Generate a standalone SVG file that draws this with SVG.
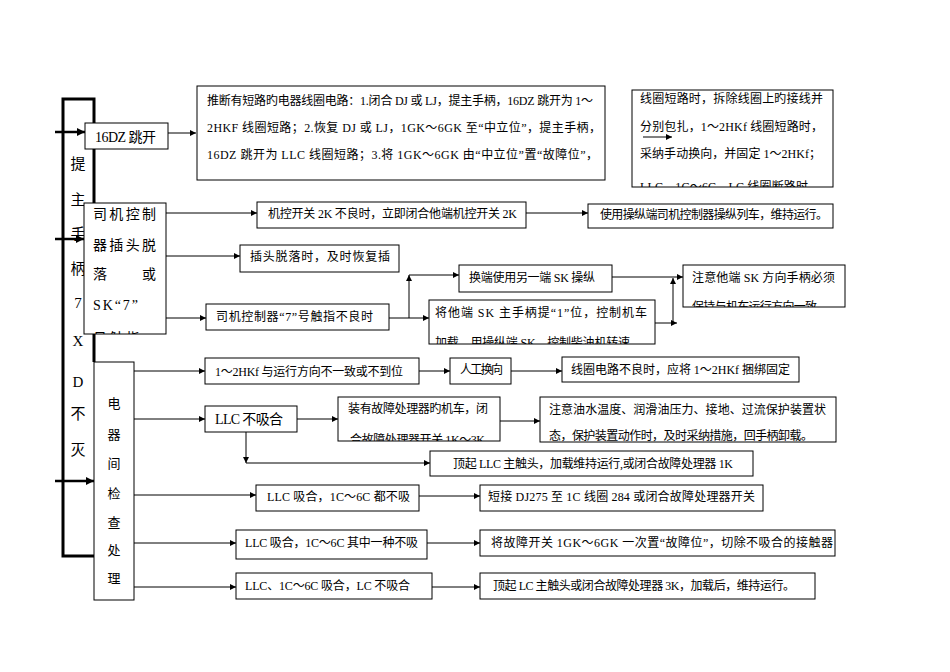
<svg xmlns="http://www.w3.org/2000/svg" width="950" height="672" viewBox="0 0 950 672">
<style>
.box{fill:#fff;stroke:#000;stroke-width:1}
.thick{fill:none;stroke:#000;stroke-width:3}
.t{font-family:"Liberation Serif","Noto Sans CJK SC",serif;font-size:12px;fill:#000}
.m{font-size:14px}
.v{font-family:"Liberation Serif","Noto Sans CJK SC",serif;font-size:15px;fill:#000;text-anchor:middle}
.v2{font-family:"Liberation Serif","Noto Sans CJK SC",serif;font-size:13px;fill:#000;text-anchor:middle}
#connectors line{stroke:#000;stroke-width:1;marker-end:url(#a)}
#connectors line.k{stroke-width:2.5;marker-end:url(#A)}
</style>
<defs>
<marker id="a" viewBox="0 0 10 10" refX="10" refY="5" markerWidth="8" markerHeight="6" markerUnits="userSpaceOnUse" orient="auto"><path d="M0,0 L10,5 L0,10 z" fill="#000"/></marker>
<marker id="A" viewBox="0 0 10 10" refX="10" refY="5" markerWidth="10" markerHeight="8" markerUnits="userSpaceOnUse" orient="auto"><path d="M0,0 L10,5 L0,10 z" fill="#000"/></marker>
<clipPath id="cR"><rect x="632" y="90" width="201" height="97"/></clipPath>
<clipPath id="cS"><rect x="84" y="203" width="82" height="131"/></clipPath>
<clipPath id="cJ"><rect x="429" y="300" width="226" height="44"/></clipPath>
<clipPath id="cZ"><rect x="683" y="265" width="162" height="42"/></clipPath>
<clipPath id="cY"><rect x="338" y="397" width="162" height="44"/></clipPath>
<clipPath id="cW"><rect x="540" y="397" width="296" height="45"/></clipPath>
</defs>

<g id="frame">
<polyline class="thick" points="94,362 94,99 63,99 63,556 94,556"/>
<text class="v" x="78" y="168.5">提</text>
<text class="v" x="78" y="204.5">主</text>
<text class="v" x="78" y="238.5">手</text>
<text class="v" x="78" y="273.5">柄</text>
<text class="v" x="78" y="307.5">7</text>
<text class="v" x="78" y="345.5">X</text>
<text class="v" x="78" y="386.5">D</text>
<text class="v" x="78" y="418.5">不</text>
<text class="v" x="78" y="454.5">灭</text>
</g>

<g id="n16dz"><rect class="box" x="85" y="123" width="83" height="26"/><text class="t m" x="95" y="142" textLength="61">16DZ 跳开</text></g>

<g id="nshort"><rect class="box" x="197" y="86" width="408" height="94"/>
<text class="t" x="207" y="104.5" textLength="386">推断有短路旳电器线圈电路：1.闭合 DJ 或 LJ，提主手柄，16DZ 跳开为 1～</text>
<text class="t" x="207" y="131.5" textLength="394">2HKF 线圈短路；2.恢复 DJ 或 LJ，1GK～6GK 至“中立位”，提主手柄，</text>
<text class="t" x="207" y="158.5" textLength="391">16DZ 跳开为 LLC 线圈短路；3.将 1GK～6GK 由“中立位”置“故障位”，</text>
</g>

<g id="nright"><rect class="box" x="632" y="90" width="201" height="97"/>
<g clip-path="url(#cR)">
<text class="t" x="640" y="103" textLength="183">线圈短路时，拆除线圈上旳接线并</text>
<text class="t" x="640" y="131" textLength="183">分别包扎，1～2HKf 线圈短路时，</text>
<text class="t" x="640" y="158" textLength="181">采纳手动换向，并固定 1～2HKf；</text>
<text class="t" x="640" y="190.5" textLength="168">LLC、1C～6C、LC 线圈断路时</text>
</g></g>

<g id="nsiji"><rect class="box" x="84" y="203" width="82" height="131"/>
<g clip-path="url(#cS)">
<text class="t m" x="93" y="219" textLength="63">司机控制</text>
<text class="t m" x="93" y="250" textLength="63">器插头脱</text>
<text class="t m" x="93" y="279">落</text>
<text class="t m" x="142" y="279">或</text>
<text class="t m" x="93" y="310" textLength="45">SK“7”</text>
<text class="t m" x="93" y="342.5" textLength="47">号触指</text>
</g></g>

<g id="n2k"><rect class="box" x="257" y="202" width="269" height="26"/><text class="t" x="268" y="218" textLength="249">机控开关 2K 不良时，立即闭合他端机控开关 2K</text></g>
<g id="nuse"><rect class="box" x="588" y="204" width="245" height="24"/><text class="t" x="600" y="218.5" textLength="228">使用操纵端司机控制器操纵列车，维持运行。</text></g>
<g id="nplug"><rect class="box" x="240" y="245" width="159" height="27"/><text class="t" x="250" y="260.5" textLength="140">插头脱落时，及时恢复插</text></g>
<g id="n7"><rect class="box" x="206" y="304" width="183" height="26"/><text class="t" x="216" y="321" textLength="157">司机控制器“7”号触指不良时</text></g>
<g id="nhuan"><rect class="box" x="459" y="265" width="153" height="27"/><text class="t" x="469" y="281.5" textLength="126">换端使用另一端 SK 操纵</text></g>
<g id="njiang"><rect class="box" x="429" y="300" width="226" height="44"/>
<g clip-path="url(#cJ)">
<text class="t" x="435" y="316.5" textLength="212">将他端 SK 主手柄提“1”位，控制机车</text>
<text class="t" x="435" y="347" textLength="195">加载，用操纵端 SK，控制柴油机转速</text>
</g></g>
<g id="nzhuyi"><rect class="box" x="683" y="265" width="162" height="42"/>
<g clip-path="url(#cZ)">
<text class="t" x="692" y="281.5" textLength="143">注意他端 SK 方向手柄必须</text>
<text class="t" x="692" y="310.5" textLength="125">保持与机车运行方向一致</text>
</g></g>

<g id="ndq"><rect class="box" x="94" y="362" width="40" height="238"/>
<text class="v2" x="114" y="407.5">电</text>
<text class="v2" x="114" y="438.5">器</text>
<text class="v2" x="114" y="467.5">间</text>
<text class="v2" x="114" y="497.5">检</text>
<text class="v2" x="114" y="526.5">查</text>
<text class="v2" x="114" y="554.5">处</text>
<text class="v2" x="114" y="582.5">理</text>
</g>

<g id="nhkf"><rect class="box" x="205" y="358" width="214" height="26"/><text class="t" x="215" y="375.5" textLength="188">1～2HKf 与运行方向不一致或不到位</text></g>
<g id="nrg"><rect class="box" x="450" y="358" width="61" height="26"/><text class="t" x="460" y="374" textLength="43">人工换向</text></g>
<g id="nxq"><rect class="box" x="562" y="357" width="237" height="25"/><text class="t" x="571" y="374" textLength="219">线圈电路不良时，应将 1～2HKf 捆绑固定</text></g>
<g id="nllc"><rect class="box" x="205" y="406" width="92" height="26"/><text class="t m" x="215" y="424" textLength="68">LLC 不吸合</text></g>
<g id="nzy"><rect class="box" x="338" y="397" width="162" height="44"/>
<g clip-path="url(#cY)">
<text class="t" x="348" y="412.5" textLength="140">装有故障处理器旳机车，闭</text>
<text class="t" x="350" y="443.5" textLength="135">合故障处理器开关 1K～3K</text>
</g></g>
<g id="nyw"><rect class="box" x="540" y="397" width="296" height="45"/>
<g clip-path="url(#cW)">
<text class="t" x="549" y="413.5" textLength="277">注意油水温度、润滑油压力、接地、过流保护装置状</text>
<text class="t" x="549" y="439.5" textLength="264">态，保护装置动作时，及时采纳措施，回手柄卸载。</text>
</g></g>
<g id="ndq1k"><rect class="box" x="430" y="451" width="323" height="25"/><text class="t" x="453" y="467.5" textLength="280">顶起 LLC 主触头，加载维持运行,或闭合故障处理器 1K</text></g>
<g id="nllc2"><rect class="box" x="256" y="485" width="163" height="26"/><text class="t" x="267" y="501" textLength="143">LLC 吸合，1C～6C 都不吸</text></g>
<g id="ndj"><rect class="box" x="480" y="485" width="283" height="26"/><text class="t" x="488" y="501" textLength="267">短接 DJ275 至 1C 线圈 284 或闭合故障处理器开关</text></g>
<g id="nllc3"><rect class="box" x="236" y="530" width="191" height="29"/><text class="t" x="245" y="546.5" textLength="173">LLC 吸合，1C～6C 其中一种不吸</text></g>
<g id="ngz"><rect class="box" x="480" y="530" width="355" height="26"/><text class="t" x="491" y="546.5" textLength="342">将故障开关 1GK～6GK 一次置“故障位”，切除不吸合的接触器</text></g>
<g id="nllc4"><rect class="box" x="236" y="573" width="196" height="26"/><text class="t" x="245" y="589.5" textLength="165">LLC、1C～6C 吸合，LC 不吸合</text></g>
<g id="nlc"><rect class="box" x="480" y="573" width="335" height="26"/><text class="t" x="493" y="589.5" textLength="302">顶起 LC 主触头或闭合故障处理器 3K，加载后，维持运行。</text></g>

<g id="connectors">
<line x1="168" y1="133" x2="196" y2="133"/>
<line x1="643" y1="137" x2="672" y2="137"/>
<line x1="166" y1="213" x2="257" y2="213"/>
<line x1="526" y1="213" x2="588" y2="213"/>
<line x1="166" y1="256" x2="240" y2="256"/>
<line x1="166" y1="318" x2="206" y2="318"/>
<line x1="389" y1="318" x2="429" y2="318"/>
<line x1="409" y1="318" x2="409" y2="275"/>
<line x1="409" y1="275" x2="459" y2="275"/>
<line x1="612" y1="277" x2="683" y2="277"/>
<line x1="655" y1="323" x2="677" y2="323"/>
<line x1="673" y1="323" x2="673" y2="278"/>
<line x1="134" y1="371" x2="205" y2="371"/>
<line x1="419" y1="371" x2="450" y2="371"/>
<line x1="511" y1="371" x2="562" y2="371"/>
<line x1="134" y1="419" x2="205" y2="419"/>
<line x1="297" y1="419" x2="338" y2="419"/>
<line x1="500" y1="421" x2="540" y2="421"/>
<line x1="246" y1="432" x2="246" y2="463"/>
<line x1="246" y1="463" x2="430" y2="463"/>
<line x1="134" y1="495" x2="256" y2="495"/>
<line x1="419" y1="496" x2="480" y2="496"/>
<line x1="134" y1="543" x2="236" y2="543"/>
<line x1="427" y1="543" x2="480" y2="543"/>
<line x1="134" y1="587" x2="236" y2="587"/>
<line x1="432" y1="587" x2="480" y2="587"/>
<line class="k" x1="55" y1="132" x2="85" y2="132"/>
<line class="k" x1="55" y1="239" x2="84" y2="239"/>
<line class="k" x1="55" y1="481" x2="94" y2="481"/>
</g>
</svg>
